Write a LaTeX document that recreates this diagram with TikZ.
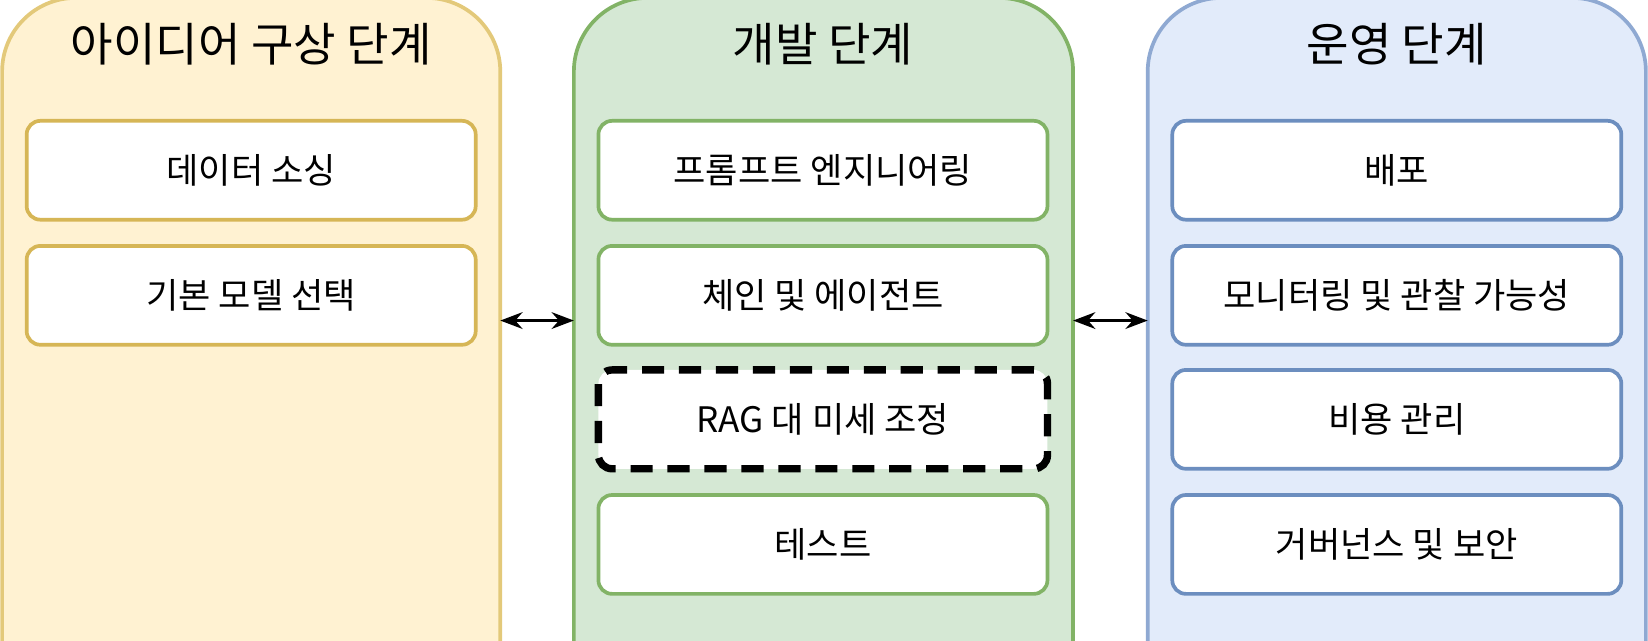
\documentclass[tikz,border=0pt]{standalone}
\usepackage{fontspec}
\setmainfont{Noto Sans CJK KR}
\usetikzlibrary{arrows.meta}
\definecolor{yelB}{HTML}{E3C97A}
\definecolor{yelF}{HTML}{FFF2D2}
\definecolor{grnB}{HTML}{82B366}
\definecolor{grnF}{HTML}{D5E8D4}
\definecolor{bluB}{HTML}{8FA9D2}
\definecolor{bluF}{HTML}{E2EBFA}
\definecolor{yelBx}{HTML}{D6B656}
\definecolor{bluBx}{HTML}{6C8EBF}
\begin{document}
\begin{tikzpicture}[x=0.01cm,y=-0.01cm,
  panel/.style={rounded corners=0.7cm,line width=1pt},
  box/.style={draw,rounded corners=0.13cm,fill=white,line width=1pt,minimum width=4.27cm,minimum height=0.94cm,font=\fontsize{9.5}{11}\selectfont},
  ttl/.style={font=\fontsize{12.5}{14}\selectfont},
  biarrow/.style={{Stealth[length=6pt]}-{Stealth[length=6pt]},line width=0.9pt}]
\useasboundingbox (0,0) rectangle (1568,609);
\begin{scope}
\clip (0,0) rectangle (1568,609);
\path[panel,draw=yelB,fill=yelF] (2,-2) rectangle (476,680);
\path[panel,draw=grnB,fill=grnF] (546,-2) rectangle (1021,680);
\path[panel,draw=bluB,fill=bluF] (1092,-2) rectangle (1566,680);
\end{scope}
\coordinate (L) at (239,0); \coordinate (M) at (783,0); \coordinate (R) at (1329,0);
\node[ttl] (t1) at (239,42) {아이디어 구상 단계};
\node[ttl] (t2) at (783,42) {개발 단계};
\node[ttl] (t3) at (1329,42) {운영 단계};
% left
\node[box,draw=yelBx] (a1) at (239,162) {데이터 소싱};
\node[box,draw=yelBx] (a2) at (239,281) {기본 모델 선택};
% middle
\node[box,draw=grnB] (b1) at (783,162) {프롬프트 엔지니어링};
\node[box,draw=grnB] (b2) at (783,281) {체인 및 에이전트};
\node[box,draw=black,dashed,line width=2pt,dash pattern=on 6pt off 4pt] (b3) at (783,399) {RAG 대 미세 조정};
\node[box,draw=grnB] (b4) at (783,518) {테스트};
% right
\node[box,draw=bluBx] (c1) at (1329,162) {배포};
\node[box,draw=bluBx] (c2) at (1329,281) {모니터링 및 관찰 가능성};
\node[box,draw=bluBx] (c3) at (1329,399) {비용 관리};
\node[box,draw=bluBx] (c4) at (1329,518) {거버넌스 및 보안};
% arrows
\coordinate (p1) at (476,305); \coordinate (p2) at (546,305);
\coordinate (p3) at (1021,305); \coordinate (p4) at (1092,305);
\draw[biarrow] (p1) -- (p2);
\draw[biarrow] (p3) -- (p4);
\end{tikzpicture}
\end{document}
